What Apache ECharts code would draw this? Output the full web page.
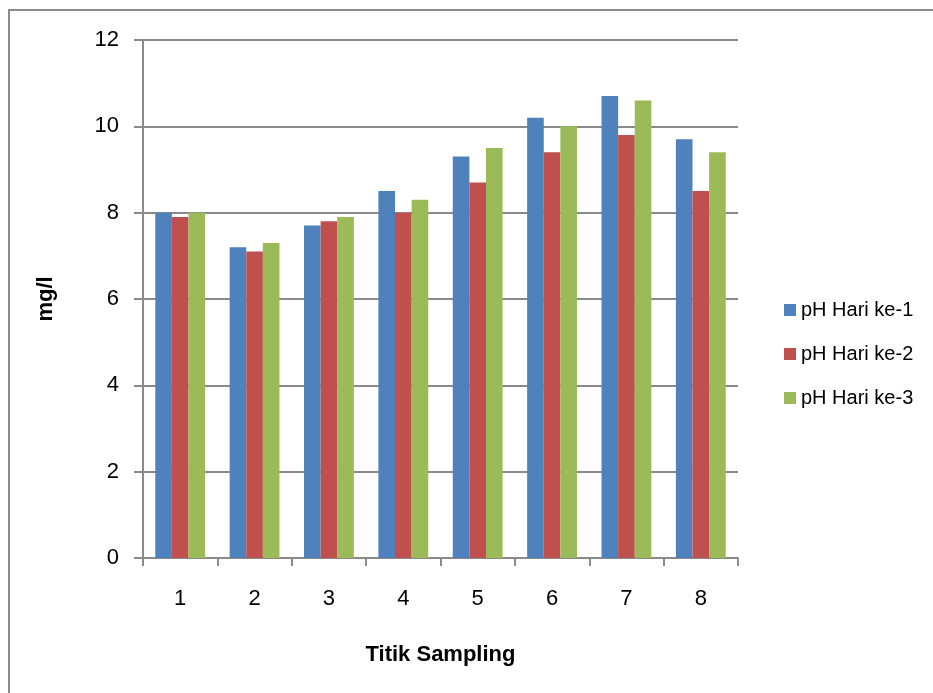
<!DOCTYPE html>
<html>
<head>
<meta charset="utf-8">
<script src="https://cdn.jsdelivr.net/npm/echarts@6/dist/echarts.min.js"></script>
<style>
  html, body { margin: 0; padding: 0; background: #ffffff; }
  #chart { width: 933px; height: 693px; }
</style>
</head>
<body>
<div id="chart"></div>
<script>
// Sampling points along the x axis
const categories = ['1', '2', '3', '4', '5', '6', '7', '8'];

// Measured values per day
const seriesNames = ['pH Hari ke-1', 'pH Hari ke-2', 'pH Hari ke-3'];
const day1 = [8.0, 7.2, 7.7, 8.5, 9.3, 10.2, 10.7, 9.7];
const day2 = [7.9, 7.1, 7.8, 8.0, 8.7, 9.4, 9.8, 8.5];
const day3 = [8.0, 7.3, 7.9, 8.3, 9.5, 10.0, 10.6, 9.4];

// Value axis range
const yMin = 0;
const yMax = 12;
const yStep = 2;

const colors = ['#4F81BD', '#C0504D', '#9BBB59'];
const font = '"Liberation Sans", Arial, sans-serif';
const lineGray = '#8a8a8a';

const chart = echarts.init(document.getElementById('chart'), null, { renderer: 'canvas' });

const values = [day1, day2, day3];

chart.setOption({
  animation: false,
  backgroundColor: '#ffffff',
  color: colors,
  textStyle: { fontFamily: font },
  graphic: [{
    type: 'rect',
    shape: { x: 9, y: 10, width: 1000, height: 1000 },
    style: { fill: 'none', stroke: '#8c8c8c', lineWidth: 2 },
    silent: true
  }],
  grid: { left: 143, right: 195, top: 40, bottom: 135, containLabel: false },
  legend: {
    orient: 'vertical',
    left: 779,
    top: 294,
    itemWidth: 12,
    itemHeight: 12,
    itemGap: 22,
    icon: 'rect',
    textStyle: { fontFamily: font, fontSize: 20, color: '#000', lineHeight: 22 },
    data: seriesNames
  },
  xAxis: {
    type: 'category',
    data: categories,
    name: 'Titik Sampling',
    nameLocation: 'middle',
    nameGap: 86,
    nameTextStyle: { fontFamily: font, fontSize: 22, fontWeight: 'bold', color: '#000' },
    axisLine: { lineStyle: { color: lineGray, width: 2 } },
    axisTick: { show: true, length: 8, inside: false, lineStyle: { color: lineGray, width: 2 } },
    axisLabel: { fontFamily: font, fontSize: 22, color: '#000', margin: 30 },
    splitLine: { show: false }
  },
  yAxis: {
    type: 'value',
    min: yMin,
    max: yMax,
    interval: yStep,
    name: 'mg/l',
    nameLocation: 'middle',
    nameGap: 86,
    nameRotate: 90,
    nameTextStyle: { fontFamily: font, fontSize: 22, fontWeight: 'bold', color: '#000' },
    axisLine: { show: true, lineStyle: { color: lineGray, width: 2 } },
    axisTick: { show: true, length: 9, inside: false, lineStyle: { color: lineGray, width: 2 } },
    axisLabel: { fontFamily: font, fontSize: 22, color: '#000', margin: 24 },
    splitLine: { show: true, lineStyle: { color: lineGray, width: 2 } }
  },
  series: seriesNames.map((name, i) => ({
    name: name,
    type: 'bar',
    data: values[i],
    barGap: '0%',
    barCategoryGap: '33%',
    itemStyle: { color: colors[i] }
  }))
});
</script>
</body>
</html>
